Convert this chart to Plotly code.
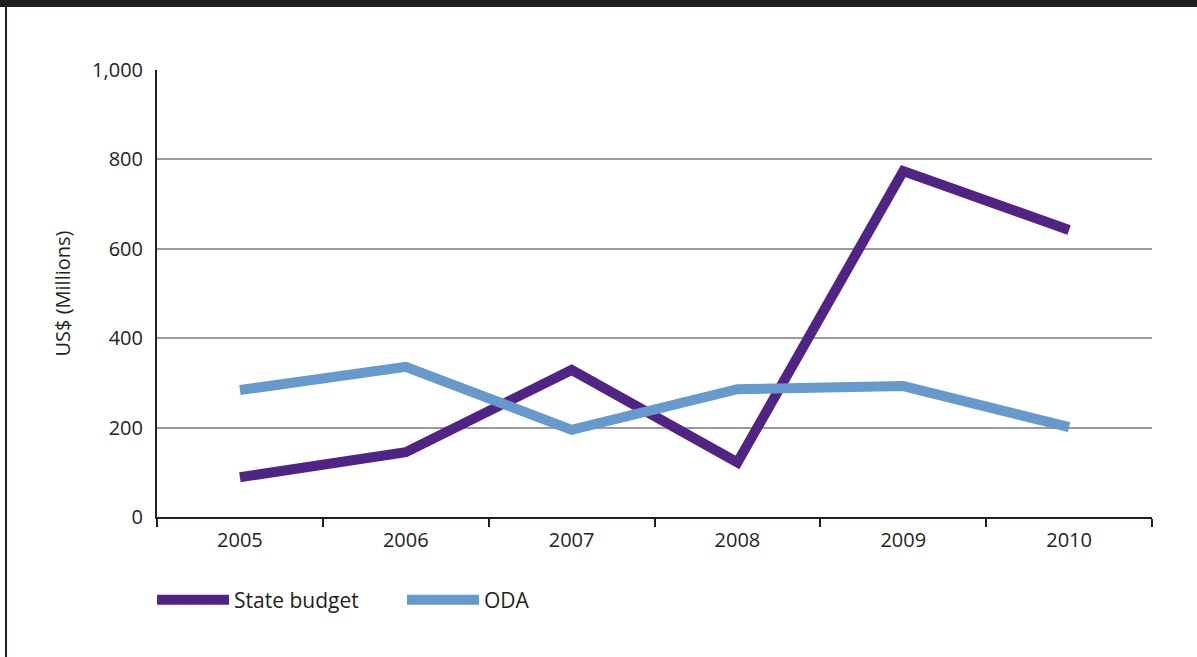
import plotly.graph_objects as go

years = ["2005", "2006", "2007", "2008", "2009", "2010"]
state_budget = [89, 145, 329, 122, 774, 642]
oda = [284, 336, 195, 286, 293, 201]
y_ticks = [0, 200, 400, 600, 800, 1000]
y_ticklabels = ["0", "200", "400", "600", "800", "1,000"]

PURPLE = "#4f2484"
BLUE = "#6699cc"
INK = "#231f20"
FONT = "Open Sans"

fig = go.Figure()
fig.add_trace(go.Scatter(x=years, y=state_budget, mode="lines", name="State budget",
                         line=dict(color=PURPLE, width=10)))
fig.add_trace(go.Scatter(x=years, y=oda, mode="lines", name="ODA",
                         line=dict(color=BLUE, width=10)))

fig.update_layout(
    width=1197, height=657,
    margin=dict(l=157, r=45, t=70, b=140),
    paper_bgcolor="white", plot_bgcolor="white",
    font=dict(family=FONT, size=20, color=INK),
    showlegend=True,
    legend=dict(orientation="h", x=-0.005, xanchor="left", y=-0.14, yanchor="top",
                itemwidth=72, font=dict(size=21), entrywidth=163, tracegroupgap=0),
    xaxis=dict(type="category", showline=True, linecolor=INK, linewidth=2,
               ticks="outside", tickson="boundaries", ticklen=8, tickwidth=1.5,
               tickcolor=INK, showgrid=False, range=[-0.5, 5.5],
               tickfont=dict(size=20), ticklabelstandoff=4),
    yaxis=dict(range=[0, 1000], tickvals=y_ticks, ticktext=y_ticklabels,
               showline=True, linecolor=INK, linewidth=2,
               showgrid=True, gridcolor="#9a9a9a", gridwidth=1.5,
               ticks="outside", ticklen=8, tickcolor="rgba(0,0,0,0)",
               zeroline=False, tickfont=dict(size=20),
               title=dict(text="US$ (Millions)", standoff=16, font=dict(size=20))),
    shapes=[
        dict(type="rect", xref="paper", yref="paper", x0=-1, x1=2,
             ysizemode="pixel", yanchor=1, y0=63, y1=90,
             fillcolor=INK, line=dict(width=0), layer="above"),
        dict(type="line", xref="paper", yref="paper", xsizemode="pixel", xanchor=0,
             x0=-151, x1=-151, y0=-1, y1=2, line=dict(color=INK, width=2)),
    ],
)

fig.write_html("out.html", config={"displayModeBar": False},
               post_script="document.body.style.margin='0';")
